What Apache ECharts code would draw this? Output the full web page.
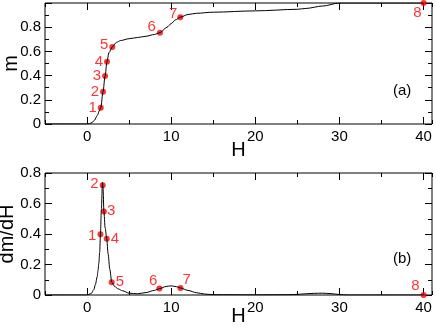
<!DOCTYPE html>
<html>
<head>
<meta charset="utf-8">
<script src="https://cdn.jsdelivr.net/npm/echarts@6/dist/echarts.min.js"></script>
<style>
  html, body { margin: 0; padding: 0; background: #fff; }
  #chart { width: 436px; height: 329px; }
</style>
</head>
<body>
<div id="chart"></div>
<script>
  // panel (a): magnetisation curve
  let hA = [-5, 0, 0.3, 0.6, 0.9, 1.2, 1.5, 1.63, 1.9, 2.14, 2.37, 2.6, 3.0, 3.5, 4, 5, 6, 7, 8, 8.66, 9.5, 10, 10.5, 11.08, 12, 13, 15, 20, 25, 26, 28, 30, 35, 40]
  let mA = [0, 0, 0.003, 0.012, 0.033, 0.07, 0.115, 0.135, 0.267, 0.397, 0.515, 0.59, 0.637, 0.675, 0.69, 0.705, 0.715, 0.725, 0.74, 0.755, 0.8, 0.83, 0.86, 0.883, 0.905, 0.915, 0.924, 0.935, 0.948, 0.955, 0.975, 1.0, 1.0, 1.0]
  // panel (b): dm/dH
  let hB = [-5, 0, 0.5, 0.8, 1.0, 1.2, 1.3, 1.4, 1.5, 1.59, 1.7, 1.83, 1.9, 2.0, 2.15, 2.34, 2.5, 2.7, 2.93, 3.3, 3.7, 4.2, 5, 6, 7, 8, 8.6, 9.4, 10, 10.6, 11.1, 12, 13, 14, 15, 20, 24, 25, 26, 27, 28, 29, 30, 31, 35, 40]
  let dB = [0, 0, 0.01, 0.035, 0.07, 0.12, 0.16, 0.21, 0.28, 0.398, 0.56, 0.738, 0.70, 0.548, 0.44, 0.369, 0.27, 0.17, 0.084, 0.055, 0.04, 0.028, 0.012, 0.008, 0.016, 0.03, 0.042, 0.056, 0.06, 0.055, 0.046, 0.03, 0.015, 0.006, 0.002, 0.001, 0.002, 0.004, 0.008, 0.011, 0.012, 0.009, 0.003, 0, 0, 0]
  // marked points
  let ptNames = ['1', '2', '3', '4', '5', '6', '7', '8']
  let ptHA = [1.63, 1.9, 2.14, 2.37, 3.0, 8.66, 11.08, 40]
  let ptMA = [0.135, 0.267, 0.397, 0.515, 0.637, 0.755, 0.883, 1.0]
  let ptHB = [1.59, 1.86, 2.0, 2.34, 2.93, 8.6, 11.1, 40]
  let ptDB = [0.398, 0.72, 0.548, 0.369, 0.084, 0.042, 0.046, 0]
  let xMajor = [0, 10, 20, 30, 40]

  // label placement (style only)
  let sideA = ['left', 'left', 'left', 'left', 'left', 'left', 'left', 'left']
  let shiftA = [[0, 0], [0, 0], [0, 0], [0, 0], [0, -2], [0, -6], [1, -3], [2, 10]]
  let sideB = ['left', 'left', 'right', 'right', 'right', 'left', 'right', 'left']
  let shiftB = [[0, 2], [0, -1], [-1, -1], [0, 0], [0, 0], [2, -8], [-2, -8], [0, -9]]

  let font = 'Liberation Sans, Arial, Helvetica, sans-serif'
  let chart = echarts.init(document.getElementById('chart'))

  function xAxes(gi, gap) {
    let base = {
      gridIndex: gi, type: 'value', min: -5, max: 41,
      axisLine: {show: false, onZero: false},
      splitLine: {show: false}
    }
    return [
      Object.assign({}, base, {
        position: 'bottom', interval: 5,
        name: 'H', nameLocation: 'middle', nameGap: gap, nameMoveOverlap: false,
        nameTextStyle: {fontFamily: font, fontSize: 20, color: '#000'},
        axisTick: {inside: true, length: 4, lineStyle: {color: '#000'}},
        axisLabel: {
          margin: 5, fontFamily: font, fontSize: 15, color: '#000',
          formatter: v => (v % 10 === 0 ? String(v) : '')
        }
      }),
      Object.assign({}, base, {
        position: 'bottom',
        axisTick: {inside: true, length: 7, customValues: xMajor, lineStyle: {color: '#000'}},
        axisLabel: {show: false}
      }),
      Object.assign({}, base, {
        position: 'top', interval: 5,
        axisTick: {inside: true, length: 4, lineStyle: {color: '#000'}},
        axisLabel: {show: false}
      }),
      Object.assign({}, base, {
        position: 'top',
        axisTick: {inside: true, length: 7, customValues: xMajor, lineStyle: {color: '#000'}},
        axisLabel: {show: false}
      })
    ]
  }

  function yAxes(gi, max, name, gap, hideTop) {
    let base = {
      gridIndex: gi, type: 'value', min: 0, max: max, interval: 0.2,
      axisLine: {show: false, onZero: false},
      splitLine: {show: false},
      axisTick: {inside: true, length: 7, lineStyle: {color: '#000'}},
      minorTick: {show: true, splitNumber: 2, length: 4, lineStyle: {color: '#000'}}
    }
    return [
      Object.assign({}, base, {
        position: 'left',
        name: name, nameLocation: 'middle', nameGap: gap, nameMoveOverlap: false,
        nameTextStyle: {fontFamily: font, fontSize: 20, color: '#000'},
        axisLabel: {
          margin: 4, fontFamily: font, fontSize: 15, color: '#000',
          formatter: v => (hideTop && v >= 1 ? '' : String(Math.round(v * 10) / 10))
        }
      }),
      Object.assign({}, base, {position: 'right', axisLabel: {show: false}})
    ]
  }

  function points(hs, vs, sides, shifts, xi, yi) {
    return {
      type: 'scatter', xAxisIndex: xi, yAxisIndex: yi,
      symbol: 'circle', symbolSize: 6, clip: false,
      itemStyle: {color: '#ff0000'},
      label: {show: true, formatter: '{b}', color: '#ff0000', fontFamily: font, fontSize: 15, distance: 1},
      data: hs.map((h, i) => ({
        name: ptNames[i], value: [h, vs[i]],
        label: {position: sides[i], offset: shifts[i]}
      }))
    }
  }

  let option = {
    animation: false,
    grid: [
      {left: 45, right: 4, top: 3, height: 121, containLabel: false, outerBoundsMode: 'none',
        show: true, borderColor: '#000', borderWidth: 1},
      {left: 45, right: 4, top: 173, height: 122, containLabel: false, outerBoundsMode: 'none',
        show: true, borderColor: '#000', borderWidth: 1}
    ],
    xAxis: xAxes(0, 16).concat(xAxes(1, 11)),
    yAxis: yAxes(0, 1, 'm', 24, true).concat(yAxes(1, 0.8, 'dm/dH', 28, false)),
    graphic: [
      {type: 'text', left: 393, top: 83, style: {text: '(a)', font: '15px ' + font, fill: '#000'}},
      {type: 'text', left: 393, top: 251, style: {text: '(b)', font: '15px ' + font, fill: '#000'}}
    ],
    series: [
      {
        type: 'line', xAxisIndex: 0, yAxisIndex: 0, smooth: 0.3, smoothMonotone: 'x',
        showSymbol: false, lineStyle: {color: '#000', width: 1},
        data: hA.map((h, i) => [h, mA[i]])
      },
      {
        type: 'line', xAxisIndex: 4, yAxisIndex: 2, smooth: 0.3, smoothMonotone: 'x',
        showSymbol: false, lineStyle: {color: '#000', width: 1},
        data: hB.map((h, i) => [h, dB[i]])
      },
      points(ptHA, ptMA, sideA, shiftA, 0, 0),
      points(ptHB, ptDB, sideB, shiftB, 4, 2)
    ]
  }
  chart.setOption(option)
</script>
</body>
</html>
